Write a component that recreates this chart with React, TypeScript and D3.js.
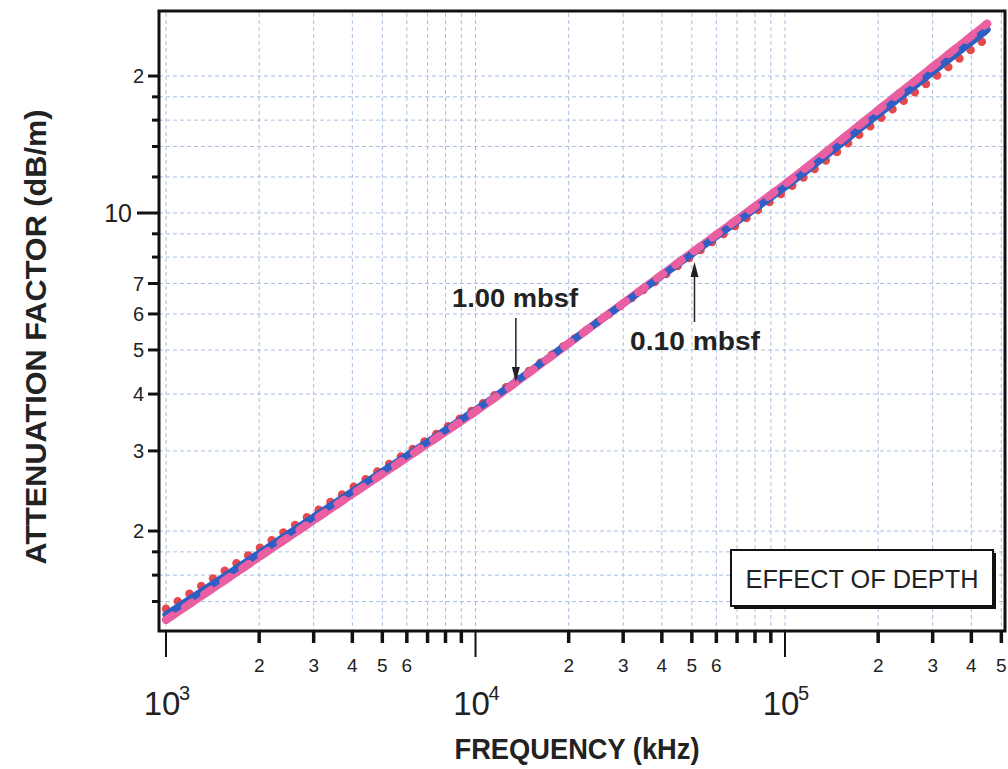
import React from 'react';
import * as d3 from 'd3';

// Frequency (kHz) sample points
const FREQ = [1000, 1500, 2000, 3000, 5000, 7000, 10000, 20000, 30000, 50000, 70000, 100000, 200000, 300000, 450000];
// Attenuation factor (dB/m) for each depth curve
const ATT_RED = [1.349, 1.613, 1.832, 2.192, 2.746, 3.178, 3.722, 5.187, 6.308, 8.043, 9.434, 11.18, 15.99, 19.72, 24.29];
const ATT_GREEN = [1.322, 1.585, 1.803, 2.163, 2.718, 3.153, 3.701, 5.18, 6.318, 8.091, 9.52, 11.32, 16.28, 20.15, 24.91];
const ATT_BLUE = [1.309, 1.57, 1.788, 2.148, 2.704, 3.141, 3.69, 5.176, 6.324, 8.121, 9.572, 11.4, 16.46, 20.42, 25.29];
const ATT_PINK = [1.276, 1.536, 1.754, 2.112, 2.67, 3.11, 3.664, 5.167, 6.336, 8.181, 9.676, 11.57, 16.83, 20.96, 26.07];

const X_MAJOR = [1000, 10000, 100000];
const X_MAJOR_EXP = ['3', '4', '5'];
const X_MINOR = [2000, 3000, 4000, 5000, 6000, 7000, 8000, 9000, 20000, 30000, 40000, 50000, 60000, 70000, 80000, 90000, 200000, 300000, 400000, 500000];
const X_MINOR_LABELS = ['2', '3', '4', '5', '6', '', '', '', '2', '3', '4', '5', '6', '', '', '', '2', '3', '4', '5'];

const Y_TICKS = [1.4, 1.6, 1.8, 2, 3, 4, 5, 6, 7, 8, 9, 10, 12, 14, 16, 18, 20];
const Y_TICK_LABELS = ['', '', '', '2', '3', '4', '5', '6', '7', '', '', '10', '', '', '', '', '2'];

const ANNOT_LABELS = ['1.00 mbsf', '0.10 mbsf'];
const ANNOT_FREQ = [13500, 51000];
const ANNOT_TIP = [4.25, 7.8];

const FONT = '"Liberation Sans", Arial, Helvetica, sans-serif';

export default function App() {
  const L = 159, R = 1005, T = 11, B = 631;
  const x = d3.scaleLog().domain([1e3, 1e5]).range([166, 785]);
  const y = d3.scaleLog().domain([1, 10]).range([668, 213]);

  const line = (vals: number[]) =>
    d3.line<number>()
      .x((_, i) => x(FREQ[i]))
      .y((d) => y(d))
      .curve(d3.curveMonotoneX)(vals) || '';

  const gridColor = '#a9c0e3';

  return (
    <svg width={1008} height={769} style={{ position: 'absolute', left: 0, top: 0, background: '#fff' }} fontFamily={FONT}>
      <defs>
        <clipPath id="plotclip">
          <rect x={L} y={T} width={R - L} height={B - T} />
        </clipPath>
      </defs>
      <rect x={0} y={0} width={1008} height={769} fill="#fff" />

      {/* grid */}
      <g stroke={gridColor} strokeWidth={1} strokeDasharray="4 3">
        {[...X_MAJOR, ...X_MINOR].map((f, i) => (
          <line key={'gx' + i} x1={x(f)} x2={x(f)} y1={T + 2} y2={B} />
        ))}
        {Y_TICKS.map((v, i) => (
          <line key={'gy' + i} x1={L} x2={R} y1={y(v)} y2={y(v)} />
        ))}
      </g>

      {/* data */}
      <g clipPath="url(#plotclip)" fill="none">
        <path d={line(ATT_RED)} stroke="#e5484d" strokeWidth={8.5} strokeLinecap="round" strokeDasharray="0 14" />
        <path d={line(ATT_GREEN)} stroke="#3c9a3c" strokeWidth={2.5} />
        <path d={line(ATT_PINK)} stroke="#ea5fa2" strokeWidth={8} strokeLinecap="round" />
        <path d={line(ATT_BLUE)} stroke="#2f5ec4" strokeWidth={7} strokeLinecap="round" />
        <path d={line(ATT_PINK)} stroke="#ea5fa2" strokeWidth={8} strokeLinecap="round" strokeDasharray="8 15" />
      </g>

      {/* frame */}
      <rect x={L} y={T} width={R - L} height={B - T} fill="none" stroke="#111" strokeWidth={3} />

      {/* x ticks */}
      <g stroke="#111">
        {X_MAJOR.map((f, i) => (
          <line key={'xM' + i} x1={x(f)} x2={x(f)} y1={B} y2={B + 26} strokeWidth={2} />
        ))}
        {X_MINOR.map((f, i) => (
          <line key={'xm' + i} x1={x(f)} x2={x(f)} y1={B} y2={B + 12} strokeWidth={3.5} />
        ))}
      </g>
      <g fill="#222" fontSize={19} textAnchor="middle">
        {X_MINOR.map((f, i) => X_MINOR_LABELS[i] ? (
          <text key={'xl' + i} x={x(f)} y={672}>{X_MINOR_LABELS[i]}</text>
        ) : null)}
      </g>
      <g fill="#222">
        {X_MAJOR.map((f, i) => (
          <g key={'xML' + i}>
            <text x={x(f) - 4} y={715} fontSize={33} textAnchor="middle">10</text>
            <text x={x(f) + 13} y={700} fontSize={20}>{X_MAJOR_EXP[i]}</text>
          </g>
        ))}
      </g>

      {/* y ticks */}
      <g stroke="#111" strokeWidth={3}>
        {Y_TICKS.map((v, i) => {
          const len = Y_TICK_LABELS[i] === '10' ? 22 : Y_TICK_LABELS[i] ? 11 : 7;
          return <line key={'yt' + i} x1={L - len} x2={L} y1={y(v)} y2={y(v)} />;
        })}
      </g>
      <g fill="#222" textAnchor="end">
        {Y_TICKS.map((v, i) => {
          const lab = Y_TICK_LABELS[i];
          if (!lab) return null;
          const big = lab === '10';
          const fs = big ? 25 : 20;
          return (
            <text key={'yl' + i} x={big ? L - 27 : L - 15} y={y(v) + fs * 0.36} fontSize={fs}>{lab}</text>
          );
        })}
      </g>

      {/* axis titles */}
      <text x={577} y={759} fontSize={29} fontWeight="bold" fill="#222" textAnchor="middle" textLength={245} lengthAdjust="spacingAndGlyphs">FREQUENCY (kHz)</text>
      <text transform="translate(46,337) rotate(-90)" fontSize={29} fontWeight="bold" fill="#222" textAnchor="middle" textLength={455} lengthAdjust="spacingAndGlyphs">ATTENUATION FACTOR (dB/m)</text>

      {/* annotations */}
      <g fill="#222" stroke="#222">
        <line x1={x(ANNOT_FREQ[0])} x2={x(ANNOT_FREQ[0])} y1={318} y2={y(ANNOT_TIP[0]) - 12} strokeWidth={1.5} />
        <path stroke="none" d={`M${x(ANNOT_FREQ[0]) - 4},${y(ANNOT_TIP[0]) - 15} L${x(ANNOT_FREQ[0]) + 4},${y(ANNOT_TIP[0]) - 15} L${x(ANNOT_FREQ[0])},${y(ANNOT_TIP[0])} Z`} />
        <line x1={x(ANNOT_FREQ[1])} x2={x(ANNOT_FREQ[1])} y1={322} y2={y(ANNOT_TIP[1]) + 12} strokeWidth={1.5} />
        <path stroke="none" d={`M${x(ANNOT_FREQ[1]) - 4},${y(ANNOT_TIP[1]) + 15} L${x(ANNOT_FREQ[1]) + 4},${y(ANNOT_TIP[1]) + 15} L${x(ANNOT_FREQ[1])},${y(ANNOT_TIP[1])} Z`} />
      </g>
      <text x={452} y={307} fontSize={25} fontWeight="bold" fill="#222" textLength={126} lengthAdjust="spacingAndGlyphs">{ANNOT_LABELS[0]}</text>
      <text x={630} y={350} fontSize={25} fontWeight="bold" fill="#222" textLength={130} lengthAdjust="spacingAndGlyphs">{ANNOT_LABELS[1]}</text>

      {/* legend box */}
      <rect x={734} y={553} width={262} height={56} fill="#111" />
      <rect x={731} y={550} width={262} height={56} fill="#fff" stroke="#111" strokeWidth={2} />
      <text x={862} y={588} fontSize={26} fill="#222" textAnchor="middle" textLength={233} lengthAdjust="spacingAndGlyphs">EFFECT OF DEPTH</text>
    </svg>
  );
}
